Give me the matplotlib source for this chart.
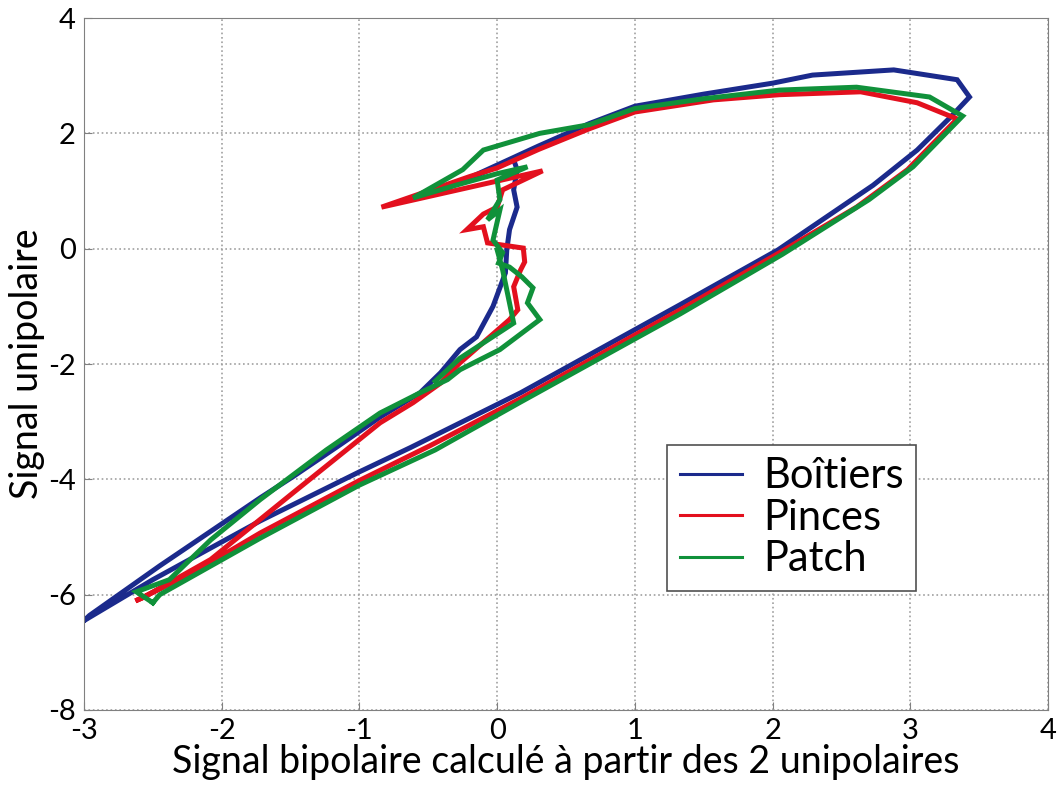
import numpy as np
import matplotlib
matplotlib.use("Agg")
import matplotlib.pyplot as plt

# Boitiers (blue)
bx = [-3.0, -2.5, -1.72, -1.0, -0.63, 0.17, 1.33, 2.04, 2.73, 3.05, 3.30, 3.43, 3.34, 2.88, 2.29, 2.0,
      1.5, 1.0, 0.67, 0.3, 0.0, -0.41, -0.44, 0.12, 0.145, 0.12, 0.145, 0.09, 0.07, 0.06, -0.03, -0.15,
      -0.27, -0.41, -0.56, -0.85, -1.14, -1.48, -1.72, -2.45, -2.96, -3.0]
by = [-6.45, -5.74, -4.72, -3.87, -3.45, -2.5, -0.97, -0.02, 1.1, 1.71, 2.3, 2.63, 2.93, 3.10, 3.01, 2.87,
      2.68, 2.47, 2.17, 1.78, 1.45, 1.0, 0.98, 1.54, 1.37, 1.02, 0.72, 0.33, -0.02, -0.42, -1.0, -1.53,
      -1.75, -2.15, -2.5, -2.92, -3.4, -3.95, -4.32, -5.5, -6.36, -6.45]

# Pinces (red)
rx = [-2.61, -2.21, -1.72, -1.0, -0.49, 0.17, 1.33, 2.05, 2.61, 2.98, 3.34, 3.05, 2.64, 2.05, 1.57, 1.0,
      0.67, 0.3, 0.0, -0.2, -0.84, 0.33, 0.04, 0.0, -0.1, -0.22, -0.1, -0.07, 0.19, 0.2, 0.17, 0.12,
      0.15, 0.09, -0.27, -0.41, -0.61, -0.85, -1.48, -2.08, -2.57, -2.61]
ry = [-6.09, -5.62, -4.93, -4.02, -3.42, -2.6, -1.06, -0.07, 0.72, 1.37, 2.25, 2.53, 2.72, 2.67, 2.58, 2.37,
      2.08, 1.72, 1.4, 1.25, 0.72, 1.35, 1.02, 0.72, 0.6, 0.33, 0.38, 0.1, 0.01, -0.23, -0.37, -0.66,
      -1.06, -1.23, -1.98, -2.33, -2.67, -3.02, -4.23, -5.39, -6.05, -6.09]

# Patch (green)
gx = [-2.5, -2.45, -1.72, -1.0, -0.45, 0.17, 1.33, 2.07, 2.7, 3.02, 3.38, 3.14, 2.61, 2.05, 1.5, 1.0,
      0.67, 0.31, -0.1, -0.25, -0.61, -0.3, 0.0, 0.22, 0.0, 0.02, -0.07, 0.02, -0.03, 0.04, 0.01, 0.09,
      0.18, 0.26, 0.22, 0.31, 0.02, -0.27, -0.36, -0.56, -0.85, -1.24, -1.72, -2.08, -2.38, -2.62, -2.5]
gy = [-6.14, -6.0, -5.02, -4.1, -3.49, -2.66, -1.13, -0.1, 0.85, 1.42, 2.3, 2.63, 2.80, 2.75, 2.6, 2.43,
      2.15, 2.0, 1.71, 1.37, 0.88, 1.1, 1.3, 1.42, 1.19, 0.85, 0.5, 0.67, 0.15, -0.07, -0.25, -0.32,
      -0.49, -0.68, -0.94, -1.23, -1.75, -2.1, -2.27, -2.5, -2.85, -3.49, -4.35, -5.05, -5.74, -5.95, -6.14]
g2x = [0.0, 0.04, 0.12, -0.27, -0.45]
g2y = [-0.02, -0.37, -1.29, -1.9, -2.3]

labels = ["Boîtiers", "Pinces", "Patch"]
colors = ["#1b2a8c", "#e3101e", "#10913a"]

plt.rcParams['font.family'] = ['Lato', 'DejaVu Sans']
plt.rcParams['axes.unicode_minus'] = False

fig = plt.figure(figsize=(10.57, 7.92), dpi=100)
ax = fig.add_axes([84 / 1057, 1 - 710 / 792, 964 / 1057, 692 / 792])

lw = 3.6
ax.plot(bx, by, color=colors[0], lw=lw, label=labels[0], solid_joinstyle="miter")
ax.plot(rx, ry, color=colors[1], lw=lw, label=labels[1], solid_joinstyle="miter")
ax.plot(gx, gy, color=colors[2], lw=lw, label=labels[2], solid_joinstyle="miter")
ax.plot(g2x, g2y, color=colors[2], lw=lw, solid_joinstyle="miter")

ax.set_xlim(-3, 4)
ax.set_ylim(-8, 4)
ax.set_xticks(range(-3, 5))
ax.set_yticks(range(-8, 5, 2))
ax.grid(True, linestyle=":", color="#a0a0a0", linewidth=1.2)
ax.tick_params(direction="in", length=6, color="#808080", labelsize=21, pad=6)
for s in ax.spines.values():
    s.set_color("#808080")

ax.set_xlabel("Signal bipolaire calculé à partir des 2 unipolaires", fontsize=27, labelpad=0)
ax.set_ylabel("Signal unipolaire", fontsize=27, labelpad=2)

leg = ax.legend(loc="upper left", bbox_to_anchor=(0.605, 0.383), fontsize=30, frameon=True,
                fancybox=False, edgecolor="#505050", framealpha=1, handlelength=1.5,
                borderpad=0.3, labelspacing=0.08, handletextpad=0.5, borderaxespad=0)
leg.get_frame().set_linewidth(1.2)
for ln in leg.get_lines():
    ln.set_linewidth(2.2)

fig.savefig("out.png", dpi=100)
